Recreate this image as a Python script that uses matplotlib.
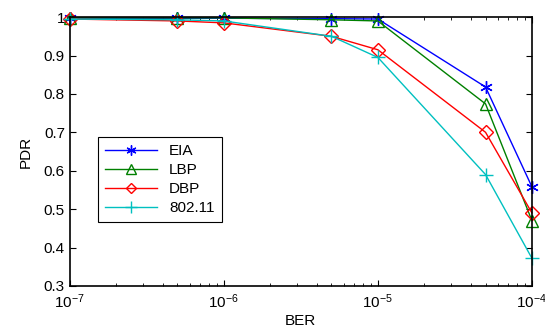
import matplotlib
matplotlib.use("Agg")
import matplotlib.pyplot as plt

plt.rcParams['font.family'] = ['Liberation Sans', 'DejaVu Sans']
plt.rcParams['mathtext.fontset'] = 'custom'
plt.rcParams['mathtext.rm'] = 'Liberation Sans'
plt.rcParams['mathtext.it'] = 'Liberation Sans'

ber = [1e-7, 5e-7, 1e-6, 5e-6, 1e-5, 5e-5, 1e-4]
eia = [0.997, 0.997, 0.997, 0.996, 0.995, 0.818, 0.558]
lbp = [0.998, 0.998, 0.998, 0.993, 0.990, 0.774, 0.470]
dbp = [0.995, 0.990, 0.985, 0.950, 0.915, 0.700, 0.490]
w80211 = [0.995, 0.993, 0.990, 0.950, 0.895, 0.590, 0.372]
labels = ["EIA", "LBP", "DBP", "802.11"]

fig = plt.figure(figsize=(5.45, 3.29), dpi=100)
ax = fig.add_axes([0.128, 0.131, 0.848, 0.817])

ax.plot(ber, eia, color="blue", marker=(6, 2, 0), ms=9, lw=1, mew=1, label=labels[0], clip_on=False)
ax.plot(ber, lbp, color="green", marker="^", ms=9, lw=1, mfc="none", mew=1, label=labels[1], clip_on=False)
ax.plot(ber, dbp, color="red", marker="D", ms=7, lw=1, mfc="none", mew=1, label=labels[2], clip_on=False)
ax.plot(ber, w80211, color="#00c0c0", marker="+", ms=10, lw=1, mew=1, label=labels[3], clip_on=False)

ax.set_xscale("log")
ax.set_xlim(1e-7, 1e-4)
ax.set_ylim(0.3, 1.0)
ax.set_yticks([0.3, 0.4, 0.5, 0.6, 0.7, 0.8, 0.9, 1.0])
ax.set_yticklabels(["0.3", "0.4", "0.5", "0.6", "0.7", "0.8", "0.9", "1"])
ax.tick_params(which="both", direction="in", top=True, right=True, labelsize=11)
ax.tick_params(which="major", length=4)
ax.tick_params(which="minor", length=2)
ax.tick_params(axis="x", pad=5)
for s in ax.spines.values():
    s.set_linewidth(1.2)

ax.set_xlabel("BER", fontsize=11, labelpad=2)
ax.set_ylabel("PDR", fontsize=11, labelpad=8)

leg = ax.legend(loc="lower left", bbox_to_anchor=(0.045, 0.21), fontsize=11,
                fancybox=False, edgecolor="black", framealpha=1,
                handlelength=3.4, borderpad=0.45, labelspacing=0.32, markerscale=0.8)
leg.get_frame().set_linewidth(0.8)

fig.savefig("out.png", dpi=100)
